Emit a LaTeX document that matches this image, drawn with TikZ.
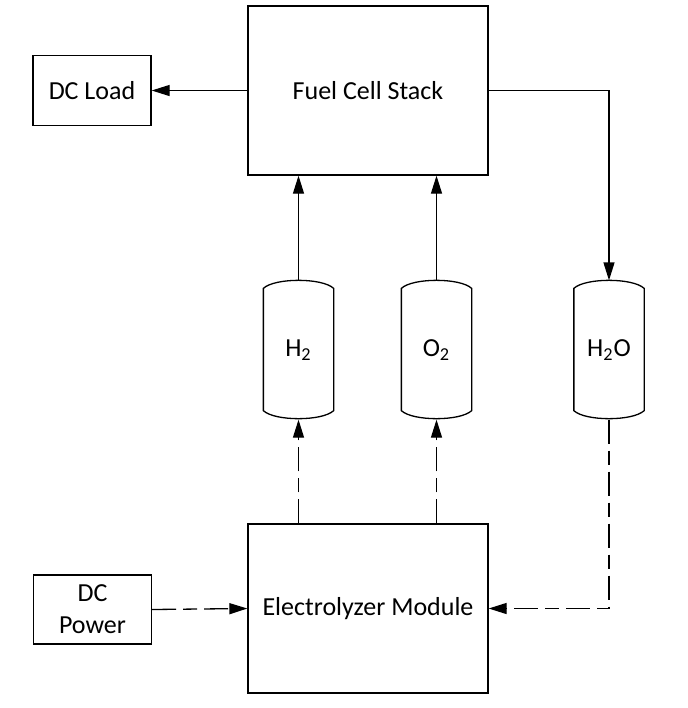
\documentclass[tikz,border=0pt]{standalone}
\usepackage{fontspec}
\setmainfont{Carlito}
\usepackage{tikz}
\usetikzlibrary{arrows.meta, calc}

\begin{document}
\begin{tikzpicture}[x=0.5pt, y=-0.5pt, line width=0.65pt,
    font=\fontsize{13}{16}\selectfont,
    unitbox/.style={draw, inner sep=2pt, align=center},
    tank/.style={inner sep=0pt, minimum width=34.5pt, minimum height=69pt},
    flow/.style={-{Triangle[length=9pt, width=5.5pt]}},
    gasflow/.style={flow, dash pattern=on 12pt off 3.5pt on 7pt off 3.5pt}]
    \useasboundingbox (0,0) rectangle (687,708);
    % blocks
    \node[unitbox, minimum width=120pt, minimum height=84.5pt] (fcs) at (368,90.5) {Fuel Cell Stack};
    \node[unitbox, minimum width=120pt, minimum height=84.5pt] (em) at (368,608.5) {Electrolyzer Module};
    \node[unitbox, minimum width=59pt, minimum height=35pt] (dcl) at (92,90.5) {DC Load};
    \node[unitbox, minimum width=59pt, minimum height=34.5pt] (dcp) at (92.5,609.5) {DC\\Power};
    % tanks
    \node[tank] (h2) at (298.5,350) {H\textsubscript{2}};
    \node[tank] (o2) at (436.5,350) {O\textsubscript{2}};
    \node[tank] (h2o) at (609,350) {H\textsubscript{2}O};
    \foreach \t in {h2,o2,h2o}
        \draw ([yshift=-4pt]\t.north west) -- ([yshift=4.5pt]\t.south west)
            .. controls +(11.5,10.7) and +(-11.5,10.7) .. ([yshift=4.5pt]\t.south east)
            -- ([yshift=-4pt]\t.north east)
            .. controls +(-11.5,-10.7) and +(11.5,-10.7) .. cycle;
    % connectors
    \draw[flow] (fcs.west) -- (dcl.east);
    \draw[flow] (fcs.east) -| (h2o.north);
    \draw[flow] (h2.north) -- (h2.north |- fcs.south);
    \draw[flow] (o2.north) -- (o2.north |- fcs.south);
    \draw[gasflow] (h2.south |- em.north) -- (h2.south);
    \draw[gasflow] (o2.south |- em.north) -- (o2.south);
    \draw[gasflow] (h2o.south) |- (em.east);
    \draw[gasflow] (dcp.east) -- (em.west);
\end{tikzpicture}
\end{document}
